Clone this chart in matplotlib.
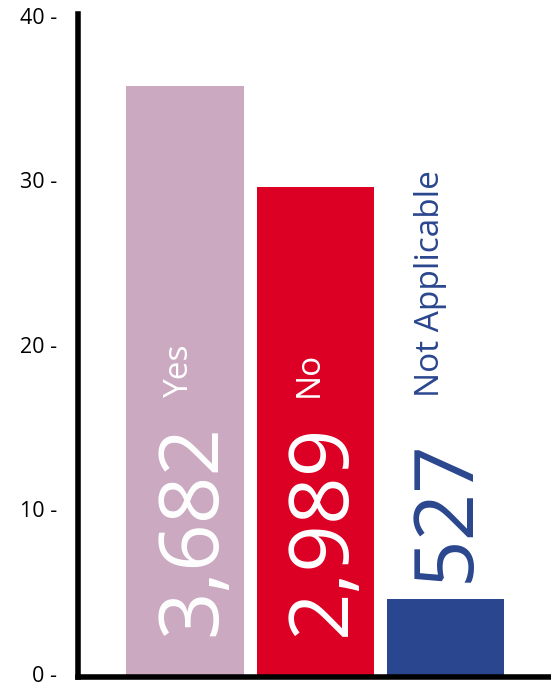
import matplotlib.pyplot as plt
from matplotlib.transforms import ScaledTranslation

categories = ['Yes', 'No', 'Not Applicable']
values = [35.9, 29.75, 4.75]
counts = ['3,682', '2,989', '527']
colors = ['#CAA9C1', '#DC0025', '#2A468E']
label_colors = ['white', 'white', '#2A468E']
yticks = [0, 10, 20, 30, 40]

plt.rcParams['font.family'] = ['Open Sans', 'DejaVu Sans']

fig = plt.figure(figsize=(5.51, 6.88), dpi=100)
ax = fig.add_axes([78 / 551, 11 / 688, 473 / 551, 663 / 688])

x = range(len(categories))
ax.bar(x, values, width=0.9, color=colors)

ax.set_xlim(-0.823, 2.815)
ax.set_ylim(0, 40.28)

# big counts, rotated; the small one sits above its bar
for i, (v, c, lc) in enumerate(zip(values, counts, label_colors)):
    base = 2.5 if v > 10 else v + 1.0
    off = 0.23 if i < 2 else 0.18
    ax.text(i + off, base, c, rotation=90, fontsize=60, color=lc,
            ha='left', va='baseline', rotation_mode='anchor')
    ax.text(i + (0.02 if i < 2 else -0.05), 17.0, categories[i], rotation=90,
            fontsize=24, color=lc, ha='left', va='baseline',
            rotation_mode='anchor')

ax.set_yticks(yticks)
ax.set_yticklabels(['{} -'.format(t) for t in yticks], fontsize=15.5)
ax.tick_params(axis='y', length=0, pad=15)
ax.set_xticks([])
shift = ScaledTranslation(0, 3 / 100, fig.dpi_scale_trans)
for lbl in ax.get_yticklabels():
    lbl.set_transform(lbl.get_transform() + shift)

for s in ['top', 'right']:
    ax.spines[s].set_visible(False)
for s in ['left', 'bottom']:
    ax.spines[s].set_linewidth(4)
    ax.spines[s].set_capstyle('projecting')

fig.savefig('out.png', dpi=100)
